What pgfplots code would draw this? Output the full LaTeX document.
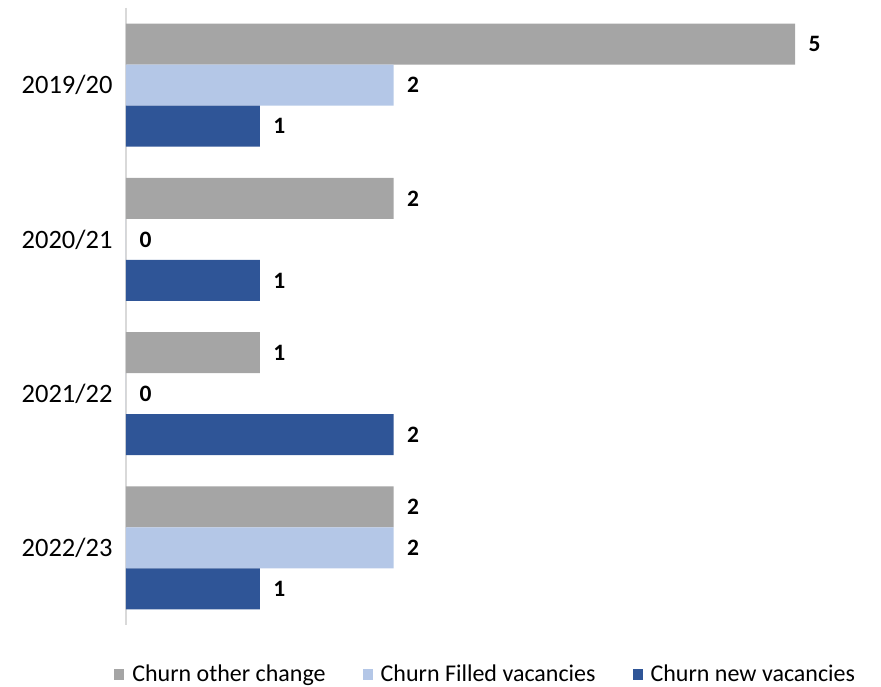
\documentclass[border=0pt]{standalone}
\usepackage{pgfplots}
\pgfplotsset{compat=1.18}
\usepackage{fontspec}
\setmainfont{Carlito}
\definecolor{cgray}{HTML}{A5A5A5}
\definecolor{clight}{HTML}{B4C7E7}
\definecolor{cdark}{HTML}{2F5597}
\definecolor{caxis}{HTML}{D9D9D9}
\begin{document}
\begin{tikzpicture}[x=1pt,y=1pt]
\begin{axis}[
  at={(0,0)}, anchor=south west,
  scale only axis, width=736pt, height=617pt,
  xbar, bar width=0.266,
  xmin=0, xmax=5.5, ymin=-0.5, ymax=3.5, y dir=reverse,
  axis x line=none, axis y line*=left,
  y axis line style={-, draw=caxis, line width=1.5pt},
  ytick={0,1,2,3},
  yticklabels={2019/20,2020/21,2021/22,2022/23},
  major tick length=0pt,
  /pgf/number format/assume math mode=true,
  yticklabel style={font=\fontsize{26.5}{30}\selectfont, xshift=-10pt},
  nodes near coords,
  every node near coord/.append style={font=\fontsize{23.5}{27}\selectfont\bfseries, anchor=west, xshift=10pt},
  legend columns=3,
  legend style={draw=none, at={(0.488,-0.079)}, anchor=center, inner sep=0pt,
    nodes={inner sep=1pt},
    font=\fontsize{24}{28}\selectfont,
    /tikz/every even column/.append style={column sep=36pt}},
  legend image code/.code={\fill[#1] (0pt,-6pt) rectangle (10pt,5pt); \path (17pt,0pt);},
]
\addplot[fill=cgray, draw=none, bar shift=-0.266] coordinates {(5,0) (2,1) (1,2) (2,3)};
\addplot[fill=clight, draw=none, bar shift=0] coordinates {(2,0) (0,1) (0,2) (2,3)};
\addplot[fill=cdark, draw=none, bar shift=0.266] coordinates {(1,0) (1,1) (2,2) (1,3)};
\legend{Churn other change, Churn Filled vacancies, Churn new vacancies}
\end{axis}
\pgfresetboundingbox
\path[use as bounding box] (-126,-62) rectangle (755,625);
\end{tikzpicture}
\end{document}
